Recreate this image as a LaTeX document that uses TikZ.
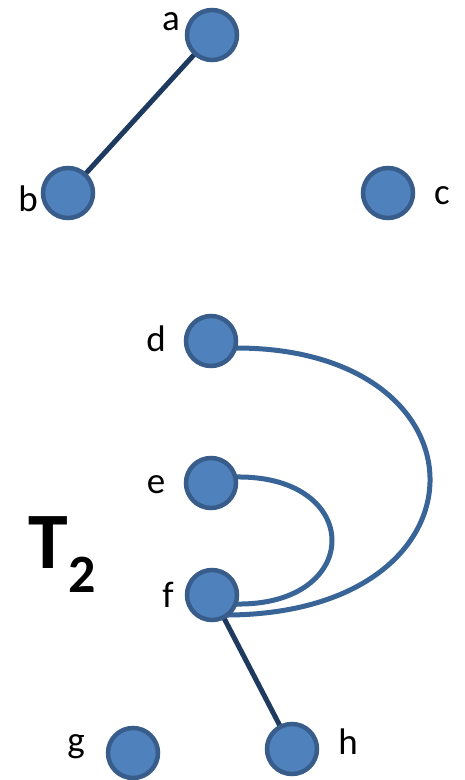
\documentclass[tikz,border=0pt]{standalone}
\usepackage{fontspec}
\setmainfont{Carlito}
\definecolor{nodefill}{HTML}{4F81BD}
\definecolor{nodeborder}{HTML}{385D8A}
\definecolor{darkedge}{HTML}{1F3A5F}
\definecolor{curveedge}{HTML}{386497}
\begin{document}
\begin{tikzpicture}[x=1pt,y=-1pt,
  vtx/.style={circle,fill=nodefill,draw=nodeborder,line width=4.5pt,minimum size=50pt,inner sep=0pt},
  lbl/.style={font=\fontsize{37}{42}\selectfont,inner sep=0pt},
  straight/.style={draw=darkedge,line width=5pt},
  curved/.style={draw=curveedge,line width=5pt}]
\useasboundingbox (0,0) rectangle (465,780);
% edges first (behind nodes)
\coordinate (a0) at (212,35);
\coordinate (b0) at (68,193);
\coordinate (f0) at (212,595);
\coordinate (h0) at (292,749);
\draw[straight] (a0) -- (b0);
\draw[straight] (f0) -- (h0);
\coordinate (ds) at (236,348);
\coordinate (de) at (222,615);
\coordinate (es) at (236,477);
\coordinate (ee) at (236,604);
\draw[curved] (ds) .. controls (497,348) and (497,617) .. (de);
\draw[curved] (es) .. controls (364,475) and (364,606) .. (ee);
\node[vtx] (a) at (212,35) {};
\node[vtx] (b) at (68,193) {};
\node[vtx] (c) at (388,193) {};
\node[vtx] (d) at (211,341) {};
\node[vtx] (e) at (211,483) {};
\node[vtx] (f) at (212,595) {};
\node[vtx] (g) at (133,753) {};
\node[vtx] (h) at (292,749) {};
\node[lbl] (la) at (171,22) {a};
\node[lbl] (lb) at (28,199) {b};
\node[lbl] (lc) at (442,196) {c};
\node[lbl] (ld) at (156,339) {d};
\node[lbl] (le) at (156,485) {e};
\node[lbl] (lf) at (168,595) {f};
\node[lbl] (lg) at (76,747) {g};
\node[lbl] (lh) at (348,742) {h};
\node[font=\fontsize{80}{90}\selectfont\bfseries,inner sep=0pt] (T) at (62,555) {T\raisebox{-0.3em}{\fontsize{54}{60}\selectfont 2}};
\end{tikzpicture}
\end{document}
